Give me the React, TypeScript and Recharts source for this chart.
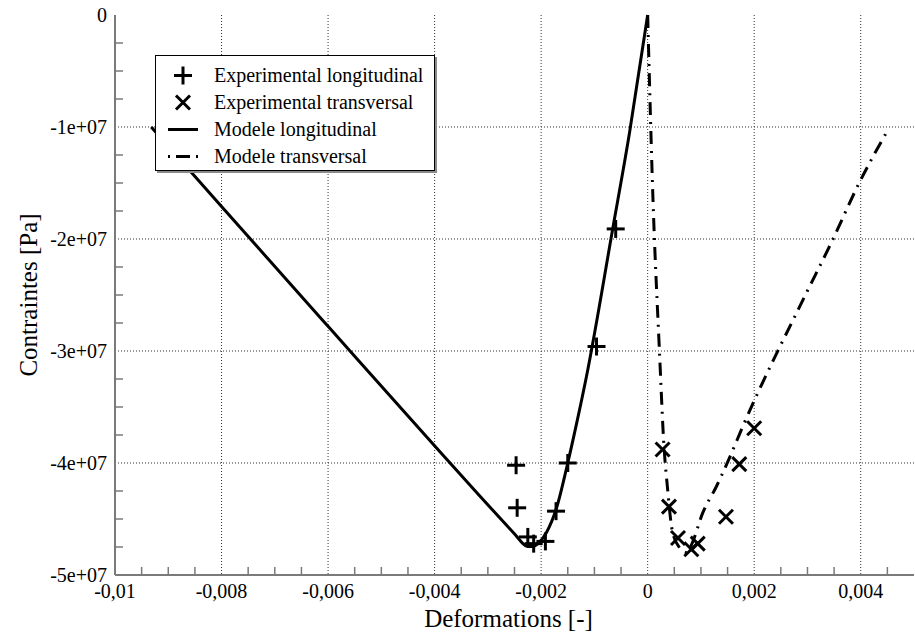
import { ComposedChart, Line, Scatter, XAxis, YAxis, CartesianGrid, Legend } from "recharts";

const FONT = '"Liberation Serif", "Times New Roman", serif';
const AXIS = "#7a7a7a";
const txt = { fontFamily: FONT };

// axis ticks
const xMajorTicks = [-0.01, -0.008, -0.006, -0.004, -0.002, 0, 0.002, 0.004];
const xTickLabels = ["-0,01", "-0,008", "-0,006", "-0,004", "-0,002", "0", "0,002", "0,004"];
const xMinorTicks = [
  -0.0095, -0.009, -0.0085, -0.0075, -0.007, -0.0065, -0.0055, -0.005, -0.0045, -0.0035, -0.003, -0.0025,
  -0.0015, -0.001, -0.0005, 0.0005, 0.001, 0.0015, 0.0025, 0.003, 0.0035, 0.0045,
];
const xGridValues = [-0.008, -0.006, -0.004, -0.002, 0, 0.002, 0.004];

const yMajorTicks = [0, -1e7, -2e7, -3e7, -4e7, -5e7];
const yTickLabels = ["0", "-1e+07", "-2e+07", "-3e+07", "-4e+07", "-5e+07"];
const yMinorTicks = [
  -2.5e6, -5e6, -7.5e6, -1.25e7, -1.5e7, -1.75e7, -2.25e7, -2.5e7, -2.75e7, -3.25e7, -3.5e7, -3.75e7, -4.25e7,
  -4.5e7, -4.75e7,
];
const yGridValues = [-1e7, -2e7, -3e7, -4e7];

// Experimental longitudinal (+)
const expLongStrain = [-0.00247, -0.00245, -0.00225, -0.00214, -0.00192, -0.00172, -0.0015, -0.00096, -0.0006];
const expLongStress = [-4.02e7, -4.4e7, -4.66e7, -4.72e7, -4.7e7, -4.43e7, -4.0e7, -2.96e7, -1.91e7];

// Experimental transversal (x)
const expTransStrain = [0.00028, 0.0004, 0.00057, 0.00082, 0.00094, 0.00147, 0.00172, 0.002];
const expTransStress = [-3.88e7, -4.39e7, -4.67e7, -4.77e7, -4.72e7, -4.48e7, -4.01e7, -3.69e7];

// Modele longitudinal
const modLongStrain = [
  -0.00932, -0.008, -0.006, -0.0039, -0.00316, -0.0027, -0.00245, -0.00235, -0.00225, -0.00215, -0.00205,
  -0.0019, -0.00171, -0.00151, -0.00134, -0.00115, -0.00066, -0.00034, 0,
];
const modLongStress = [
  -1.0e7, -1.71e7, -2.78e7, -3.9e7, -4.29e7, -4.53e7, -4.66e7, -4.715e7, -4.745e7, -4.745e7, -4.715e7,
  -4.62e7, -4.4e7, -4.02e7, -3.66e7, -3.23e7, -1.92e7, -1.05e7, 0,
];

// Modele transversal
const modTransStrain = [
  0, 0.0001, 0.00022, 0.00031, 0.00037, 0.00046, 0.00059, 0.00074, 0.00084, 0.00103, 0.00129, 0.00154, 0.00178,
  0.00294, 0.00344, 0.00397, 0.00453,
];
const modTransStress = [
  0, -1.65e7, -2.99e7, -3.88e7, -4.21e7, -4.6e7, -4.75e7, -4.8e7, -4.71e7, -4.45e7, -4.21e7, -3.95e7, -3.68e7,
  -2.52e7, -2.04e7, -1.5e7, -1.01e7,
];

const zip = (xs: number[], ys: number[]) => xs.map((x, i) => ({ x, y: ys[i] }));
const expLong = zip(expLongStrain, expLongStress);
const expTrans = zip(expTransStrain, expTransStress);
const modLong = zip(modLongStrain, modLongStress);
const modTrans = zip(modTransStrain, modTransStress);

const DASHDOT = "13 7 2 7";

function Plus({ cx, cy }: any) {
  return (
    <g stroke="#000" strokeWidth={3}>
      <line x1={cx - 9} x2={cx + 9} y1={cy} y2={cy} />
      <line x1={cx} x2={cx} y1={cy - 9} y2={cy + 9} />
    </g>
  );
}

function Cross({ cx, cy }: any) {
  return (
    <g stroke="#000" strokeWidth={3}>
      <line x1={cx - 7} x2={cx + 7} y1={cy - 7} y2={cy + 7} />
      <line x1={cx - 7} x2={cx + 7} y1={cy + 7} y2={cy - 7} />
    </g>
  );
}

function BottomTick({ x, y, payload }: any) {
  const i = xMajorTicks.indexOf(payload.value);
  if (i >= 0)
    return (
      <text x={x} y={y + 23} textAnchor="middle" style={txt} fontSize={20} fill="#000">
        {xTickLabels[i]}
      </text>
    );
  return <line x1={x} x2={x} y1={y} y2={y - 8} stroke={AXIS} strokeWidth={1.5} />;
}

function TopTick({ x, y, payload }: any) {
  if (xMajorTicks.includes(payload.value)) return <g />;
  return <line x1={x} x2={x} y1={y} y2={y + 8} stroke={AXIS} strokeWidth={1.5} />;
}

function LeftTick({ x, y, payload }: any) {
  const i = yMajorTicks.indexOf(payload.value);
  if (i >= 0)
    return (
      <text x={x - 8} y={y + 7} textAnchor="end" style={txt} fontSize={20} fill="#000">
        {yTickLabels[i]}
      </text>
    );
  return <line x1={x} x2={x + 8} y1={y} y2={y} stroke={AXIS} strokeWidth={1.5} />;
}

function RightTick({ x, y, payload }: any) {
  if (yMajorTicks.includes(payload.value)) return <g />;
  return <line x1={x} x2={x - 8} y1={y} y2={y} stroke={AXIS} strokeWidth={1.5} />;
}

const legendItems = [
  { label: "Experimental longitudinal", kind: "plus" },
  { label: "Experimental transversal", kind: "cross" },
  { label: "Modele longitudinal", kind: "line" },
  { label: "Modele transversal", kind: "dashdot" },
];

function LegendBox() {
  return (
    <div
      style={{
        width: 280,
        height: 116,
        boxSizing: "border-box",
        border: "1px solid #000",
        background: "#fff",
        boxShadow: "2px 2px 0 #8a8a8a",
        paddingTop: 6,
        fontFamily: FONT,
        fontSize: 20,
        color: "#000",
      }}
    >
      {legendItems.map((it) => (
        <div key={it.label} style={{ display: "flex", alignItems: "center", height: 27, whiteSpace: "nowrap" }}>
          <svg width={58} height={27}>
            {it.kind === "plus" && <Plus cx={27} cy={13.5} />}
            {it.kind === "cross" && <Cross cx={27} cy={13.5} />}
            {it.kind === "line" && <line x1={12} x2={42} y1={13.5} y2={13.5} stroke="#000" strokeWidth={3} />}
            {it.kind === "dashdot" && (
              <line x1={12} x2={42} y1={13.5} y2={13.5} stroke="#000" strokeWidth={3} strokeDasharray="2 6 14 6 2 100" />
            )}
          </svg>
          <span>{it.label}</span>
        </div>
      ))}
    </div>
  );
}

export default function App() {
  return (
    <div style={{ position: "absolute", left: 0, top: 0, width: 915, height: 636, background: "#fff", fontFamily: FONT }}>
      <ComposedChart width={915} height={636} margin={{ top: 15, right: 1, bottom: 0, left: 0 }} style={txt}>
        <CartesianGrid
          xAxisId="bottom"
          yAxisId="left"
          verticalValues={xGridValues}
          horizontalValues={yGridValues}
          stroke="#333"
          strokeDasharray="1 2"
        />
        <XAxis
          xAxisId="bottom"
          dataKey="x"
          type="number"
          domain={[-0.01, 0.005]}
          ticks={[...xMajorTicks, ...xMinorTicks]}
          interval={0}
          tickSize={0}
          tickMargin={0}
          tickLine={false}
          tick={BottomTick}
          height={61}
          axisLine={{ stroke: AXIS, strokeWidth: 2 }}
          label={{
            content: (p: any) => {
              const vb = p.viewBox;
              return (
                <text x={vb.x + vb.width / 2 - 6} y={vb.y + vb.height - 9} textAnchor="middle" style={txt} fontSize={25} fill="#000">
                  Deformations [-]
                </text>
              );
            },
          }}
        />
        <XAxis
          xAxisId="top"
          orientation="top"
          type="number"
          domain={[-0.01, 0.005]}
          ticks={[...xMajorTicks, ...xMinorTicks]}
          interval={0}
          tickSize={0}
          tickMargin={0}
          tickLine={false}
          tick={TopTick}
          height={0}
          axisLine={{ stroke: AXIS, strokeWidth: 2 }}
        />
        <YAxis
          yAxisId="left"
          type="number"
          domain={[-5e7, 0]}
          ticks={[...yMajorTicks, ...yMinorTicks]}
          interval={0}
          tickSize={0}
          tickMargin={0}
          tickLine={false}
          tick={LeftTick}
          width={115}
          axisLine={{ stroke: AXIS, strokeWidth: 2 }}
          label={{
            content: (p: any) => {
              const vb = p.viewBox;
              const cx = vb.x + 37;
              const cy = vb.y + vb.height / 2;
              return (
                <text x={cx} y={cy} transform={`rotate(-90 ${cx} ${cy})`} textAnchor="middle" style={txt} fontSize={25} fill="#000">
                  Contraintes [Pa]
                </text>
              );
            },
          }}
        />
        <YAxis
          yAxisId="right"
          orientation="right"
          type="number"
          domain={[-5e7, 0]}
          ticks={[...yMajorTicks, ...yMinorTicks]}
          interval={0}
          tickSize={0}
          tickMargin={0}
          tickLine={false}
          tick={RightTick}
          width={0}
          axisLine={{ stroke: AXIS, strokeWidth: 2 }}
        />
        <Line
          xAxisId="bottom"
          yAxisId="left"
          data={modLong}
          dataKey="y"
          type="monotone"
          stroke="#000"
          strokeWidth={3}
          dot={false}
          isAnimationActive={false}
        />
        <Line
          xAxisId="bottom"
          yAxisId="left"
          data={modTrans}
          dataKey="y"
          type="monotone"
          stroke="#000"
          strokeWidth={3}
          strokeDasharray={DASHDOT}
          dot={false}
          isAnimationActive={false}
        />
        <Scatter xAxisId="bottom" yAxisId="left" data={expLong} dataKey="y" shape={(p: any) => <Plus cx={p.cx} cy={p.cy} />} isAnimationActive={false} />
        <Scatter xAxisId="bottom" yAxisId="left" data={expTrans} dataKey="y" shape={(p: any) => <Cross cx={p.cx} cy={p.cy} />} isAnimationActive={false} />
        <Legend
          layout="horizontal"
          verticalAlign="middle"
          align="center"
          wrapperStyle={{ left: 155, top: 55, width: 282, height: 118 }}
          content={() => <LegendBox />}
        />
      </ComposedChart>
    </div>
  );
}
